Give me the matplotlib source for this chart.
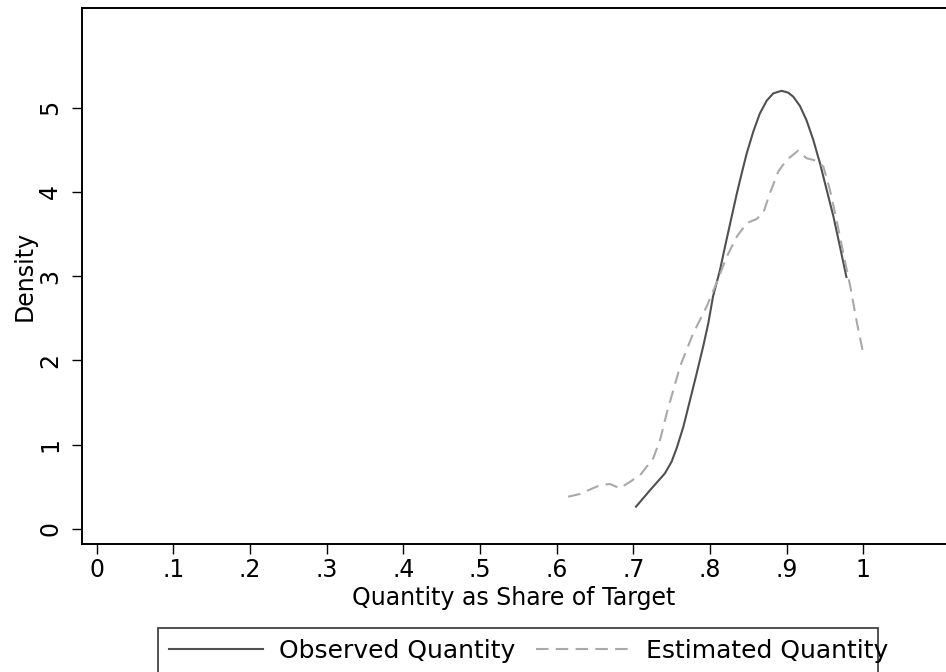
import matplotlib
matplotlib.use("Agg")
import matplotlib.pyplot as plt
from matplotlib.patches import Rectangle

# Observed quantity density
obs_x = [0.7035, 0.7218, 0.7413, 0.750, 0.7566, 0.7652, 0.774, 0.7827, 0.791,
         0.7978, 0.804, 0.8131, 0.8196, 0.8283, 0.835, 0.8414, 0.848, 0.8565,
         0.865, 0.874, 0.8826, 0.8935, 0.9022, 0.9087, 0.9174, 0.926, 0.9348,
         0.9435, 0.9523, 0.961, 0.9696, 0.978]
obs_y = [0.265, 0.46, 0.661, 0.80, 0.96, 1.21, 1.53, 1.848, 2.16,
         2.441, 2.76, 3.074, 3.35, 3.706, 3.98, 4.221, 4.46, 4.715,
         4.93, 5.083, 5.17, 5.20, 5.178, 5.13, 5.02, 4.85, 4.617,
         4.34, 4.023, 3.71, 3.35, 2.99]

# Estimated quantity density
est_x = [0.615, 0.630, 0.6566, 0.6696, 0.6826, 0.6957, 0.709, 0.726, 0.735,
         0.7435, 0.761, 0.778, 0.7957, 0.8087, 0.8218, 0.835, 0.848, 0.861,
         0.8696, 0.878, 0.889, 0.900, 0.915, 0.926, 0.939, 0.948, 0.9566,
         0.965, 0.974, 0.983, 0.991, 1.000]
est_y = [0.383, 0.415, 0.52, 0.534, 0.483, 0.56, 0.64, 0.84, 1.06,
         1.37, 1.93, 2.32, 2.64, 2.92, 3.23, 3.47, 3.63, 3.68,
         3.75, 3.98, 4.24, 4.38, 4.49, 4.40, 4.37, 4.30, 4.02,
         3.67, 3.27, 2.88, 2.48, 2.08]

x_ticks = [0, 0.1, 0.2, 0.3, 0.4, 0.5, 0.6, 0.7, 0.8, 0.9, 1.0]
x_ticklabels = ["0", ".1", ".2", ".3", ".4", ".5", ".6", ".7", ".8", ".9", "1"]
y_ticks = [0, 1, 2, 3, 4, 5]
y_ticklabels = ["0", "1", "2", "3", "4", "5"]

W, H = 946, 672
fig = plt.figure(figsize=(W / 100, H / 100), dpi=100)
ax = fig.add_axes([81.5 / W, 1 - 544.3 / H, (W - 81.5) / W, (544.3 - 8) / H])

ax.plot(obs_x, obs_y, color="#505050", lw=1.5, label="Observed Quantity",
        solid_joinstyle="round")
ax.plot(est_x, est_y, color="#a9a9a9", lw=1.5, dashes=(6, 3.5),
        label="Estimated Quantity")

ax.set_xlim(-0.0198, 1.1079)
ax.set_ylim(-0.1816, 6.183)

ax.spines["right"].set_visible(False)
for s in ["left", "top", "bottom"]:
    ax.spines[s].set_linewidth(1.4)

ax.set_xticks(x_ticks)
ax.set_xticklabels(x_ticklabels)
ax.set_yticks(y_ticks)
ax.set_yticklabels(y_ticklabels, rotation=90, va="center")
ax.tick_params(axis="both", direction="out", length=7, width=1.0, labelsize=17)
ax.tick_params(axis="x", pad=3)
ax.tick_params(axis="y", pad=7)

ax.set_xlabel("Quantity as Share of Target", fontsize=17, labelpad=3)
ax.set_ylabel("Density", fontsize=17, labelpad=1)

# legend (frame drawn separately, it runs past the bottom edge)
leg = fig.legend(loc="upper left", bbox_to_anchor=(158 / W, 1 - 627.7 / H),
                 ncol=2, frameon=False, fontsize=18, handlelength=3.76,
                 handletextpad=0.64, columnspacing=0.8, borderpad=0.45,
                 borderaxespad=0)
fig.patches.append(Rectangle((158.3 / W, -0.1), 720 / W, 0.1 + (672 - 627.7) / H,
                             transform=fig.transFigure, fill=False,
                             edgecolor="#333333", lw=1.2))

fig.savefig("out.png", dpi=100)
